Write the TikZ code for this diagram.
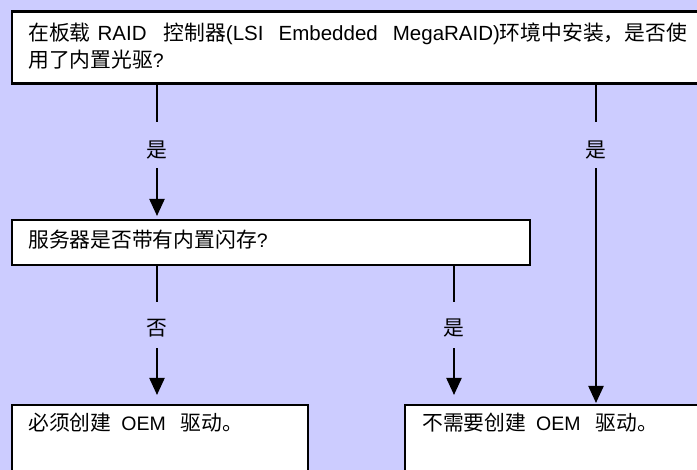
\documentclass[tikz,border=0pt]{standalone}
\usepackage{fontspec}
\setmainfont{Liberation Sans}
\newfontfamily\cjkfont{Noto Sans CJK SC}
\usetikzlibrary{arrows.meta}
\newcommand\zh[1]{{\fontsize{20.8}{27}\cjkfont #1}}
\definecolor{bgcol}{HTML}{CCCCFF}
\begin{document}
\begin{tikzpicture}[x=1pt,y=-1pt,
  box/.style={draw=black, line width=2.2pt, fill=white, rectangle, inner sep=0pt, anchor=north west},
  txt/.style={anchor=base west, inner sep=0pt, font=\fontsize{19.5}{27}\selectfont},
  lab/.style={anchor=base, inner sep=0pt, text height=36pt, text depth=10pt, font=\fontsize{19.5}{27}\selectfont},
  lab2/.style={lab, text height=34pt, text depth=12pt},
  link/.style={line width=2.2pt},
  arr/.style={line width=2.2pt, -{Triangle[width=15pt,length=17pt]}}]
\fill[bgcol] (0,0) rectangle (697,470);
\useasboundingbox (0,0) rectangle (697,470);
\clip (0,0) rectangle (697,470);
% boxes
\node[box, minimum width=720pt, minimum height=72pt] (top) at (10.5,10.5) {};
\node[box, minimum width=518pt, minimum height=45pt] (mid) at (10.5,219) {};
\node[box, minimum width=296pt, minimum height=100pt] (bl) at (10.5,404) {};
\node[box, minimum width=320pt, minimum height=100pt] (br) at (403.5,404) {};
% texts
\node[txt, font=\fontsize{20.5}{27}\selectfont] (q1a) at (28,41) {\makebox[659pt][s]{\zh{在板载}\hspace{7pt}RAID\hspace{17pt}\zh{控制器}(LSI\hspace{12pt plus 1fil}Embedded\hspace{12pt plus 1fil}MegaRAID)\zh{环境中安装，是否使}}};
\node[txt] (q1b) at (28,68) {\zh{用了内置光驱}?};
\node[txt] (q2) at (28,248) {\zh{服务器是否带有内置闪存}?};
\node[txt] (r1) at (28,431) {\zh{必须创建}\hspace{10pt}OEM\hspace{15pt}\zh{驱动。}};
\node[txt] (r2) at (422,431) {\zh{不需要创建}\hspace{10pt}OEM\hspace{15pt}\zh{驱动。}};
% labels
\node[lab] (y1) at (157,158) {\zh{是}};
\node[lab] (y2) at (596,158) {\zh{是}};
\node[lab2] (n1) at (157,336) {\zh{否}};
\node[lab2] (y3) at (454,336) {\zh{是}};
% connectors
\draw[link] (y1 |- top.south) -- (y1.north);
\draw[arr, shorten >=3pt] (y1.south) -- (y1 |- mid.north);
\draw[link] (y2 |- top.south) -- (y2.north);
\draw[arr, shorten >=1pt] (y2.south) -- (y2 |- br.north);
\draw[link] (n1 |- mid.south) -- (n1.north);
\draw[arr, shorten >=9pt] (n1.south) -- (n1 |- bl.north);
\draw[link] (y3 |- mid.south) -- (y3.north);
\draw[arr, shorten >=9pt] (y3.south) -- (y3 |- br.north);
\end{tikzpicture}
\end{document}
